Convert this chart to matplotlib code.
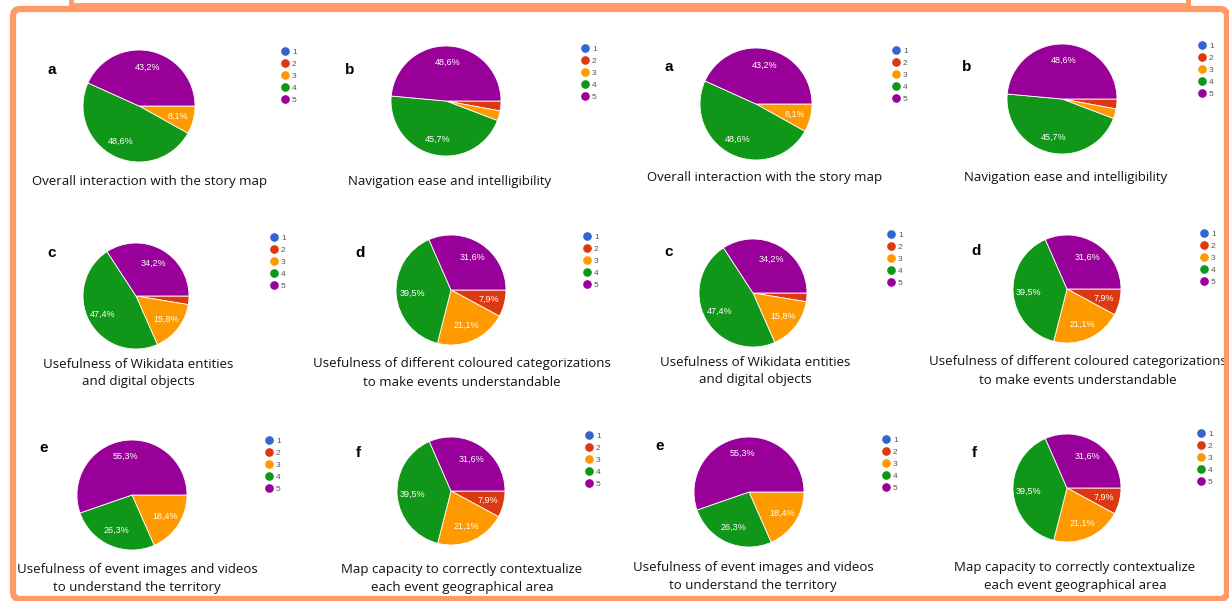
import numpy as np
import matplotlib.pyplot as plt
from matplotlib.lines import Line2D
from matplotlib.patches import FancyBboxPatch, Rectangle

# ---------------------------
# Survey answers (share of respondents per score, in %)
# ---------------------------
scores = ['1', '2', '3', '4', '5']
score_colors = ['#3366cc', '#dc3912', '#ff9900', '#109618', '#990099']

panel_letters = ['a', 'b', 'c', 'd', 'e', 'f']
panel_titles = [
    'Overall interaction with the story map',
    'Navigation ease and intelligibility',
    'Usefulness of Wikidata entities\nand digital objects',
    'Usefulness of different coloured categorizations\nto make events understandable',
    'Usefulness of event images and videos\nto understand the territory',
    'Map capacity to correctly contextualize\neach event geographical area',
]
share_a = [0.0, 0.0, 8.1, 48.6, 43.2]
share_b = [0.0, 2.9, 2.9, 45.7, 48.6]
share_c = [0.0, 2.6, 15.8, 47.4, 34.2]
share_d = [0.0, 7.9, 21.1, 39.5, 31.6]
share_e = [0.0, 0.0, 18.4, 26.3, 55.3]
share_f = [0.0, 7.9, 21.1, 39.5, 31.6]
panel_shares = [share_a, share_b, share_c, share_d, share_e, share_f]

# slices smaller than this get no percentage label
label_min = 5.0

# ---------------------------
# Layout in pixels (x from left, y from top); the sheet is shown twice
# ---------------------------
W, H = 1229, 601
# pie centre x, centre y, radius
pie_pos = [
    [(139, 106, 56), (446, 101, 55), (136, 296, 53), (451, 290, 55), (132, 495, 55), (451, 491, 54)],
    [(756, 104, 56), (1062, 99, 55), (753, 293, 54), (1067, 289, 54), (749, 492, 55), (1067, 488, 54)],
]
letter_pos = [
    [(52, 70), (350, 70), (52, 253), (360, 253), (44, 448), (358, 453)],
    [(669, 67), (967, 67), (669, 252), (976, 251), (660, 446), (974, 453)],
]
legend_pos = [
    [(286, 53), (586, 50), (275, 239), (588, 238), (270, 442), (590, 437)],
    [(897, 52), (1203, 47), (892, 236), (1205, 235), (887, 441), (1202, 435)],
]
title_pos = [
    [(150, 181), (450, 181), (138, 373), (462, 373), (137, 578), (462, 579)],
    [(765, 177), (1066, 177), (755, 371), (1078, 371), (753, 577), (1075, 577)],
]

frame_color = '#ff9966'

fig = plt.figure(figsize=(W / 100, H / 100), dpi=100)
fig.patch.set_facecolor('white')

# background axes in pixel units for the frame, letters and captions
bg = fig.add_axes([0, 0, 1, 1])
bg.set_xlim(0, W)
bg.set_ylim(H, 0)
bg.axis('off')

# bottom edge of the box above
bg.add_patch(Rectangle((71, -20), 1117, 25, fill=False, edgecolor=frame_color,
                       linewidth=3.5, zorder=10))
# main rounded frame
bg.add_patch(FancyBboxPatch((13, 9), 1214, 590, boxstyle='round,pad=0,rounding_size=7',
                            fill=False, edgecolor=frame_color, linewidth=4.5, zorder=10))

legend_handles = [Line2D([], [], linestyle='none', marker='o', markersize=5.2,
                         markerfacecolor=c, markeredgecolor=c) for c in score_colors]

for s in range(2):
    for i in range(6):
        cx, cy, r = pie_pos[s][i]
        ax = fig.add_axes([(cx - r) / W, 1 - (cy + r) / H, 2 * r / W, 2 * r / H])
        wedges, _ = ax.pie(panel_shares[i], colors=score_colors, startangle=0,
                           counterclock=False,
                           wedgeprops=dict(edgecolor='white', linewidth=0.6))
        ax.set_xlim(-1, 1)
        ax.set_ylim(-1, 1)
        ax.set_aspect('equal')

        for w, v in zip(wedges, panel_shares[i]):
            if v < label_min:
                continue
            ang = np.deg2rad((w.theta1 + w.theta2) / 2)
            ax.text(0.71 * np.cos(ang), 0.71 * np.sin(ang),
                    f'{v:.1f}%'.replace('.', ','), color='white', fontsize=6.5,
                    ha='center', va='center', family='Liberation Sans')

        lx, ly = legend_pos[s][i]
        fig.legend(legend_handles, scores, loc='upper left',
                   bbox_to_anchor=((lx - 4) / W, 1 - (ly - 5) / H),
                   frameon=False, labelcolor='#555555',
                   handlelength=0.8, handletextpad=0.4, labelspacing=0.5,
                   borderpad=0, borderaxespad=0,
                   prop={'family': 'Liberation Sans', 'size': 6})

        tx, ty = letter_pos[s][i]
        bg.text(tx, ty, panel_letters[i], fontsize=11, fontweight='bold',
                family='Liberation Sans', ha='center', va='center', color='black')

        tx, ty = title_pos[s][i]
        bg.text(tx, ty, panel_titles[i], fontsize=9.5, family='Open Sans',
                ha='center', va='center', color='#111111', linespacing=1.5)

plt.savefig('out.png', dpi=100, facecolor='white')
